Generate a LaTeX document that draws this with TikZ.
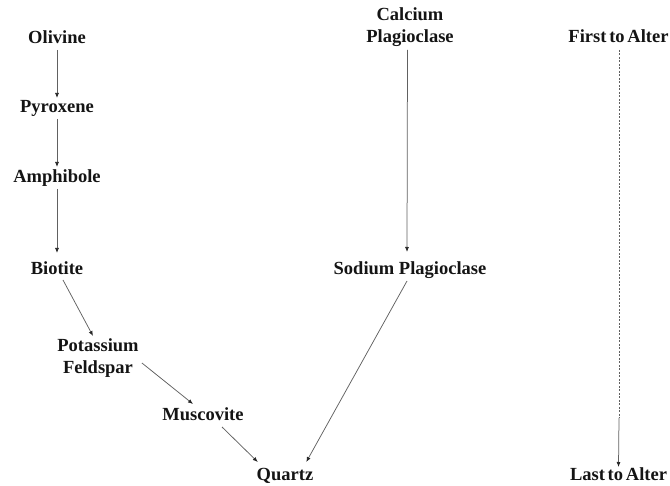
\documentclass[tikz,border=0pt]{standalone}
\usepackage{fontspec}
\setmainfont{Liberation Serif}
\usetikzlibrary{calc,arrows.meta}
\begin{document}
\begin{tikzpicture}[x=1pt,y=-1pt,
  lbl/.style={anchor=base,inner sep=0pt,outer sep=0pt,text height=13pt,text depth=4pt,
    font=\bfseries\fontsize{18.5}{22}\selectfont,text=black!92},
  arr/.style={draw=black!62,line width=0.75pt,-{Latex[length=5pt,width=4pt,color=black!85]}},
  dline/.style={draw=black!62,line width=0.9pt,dash pattern=on 2pt off 1.5pt}]
\useasboundingbox (0,0) rectangle (670,486);
% left series
\node[lbl] (oliv) at (57,44) {Olivine};
\node[lbl] (pyro) at (57,113) {Pyroxene};
\node[lbl] (amph) at (57,183) {Amphibole};
\node[lbl] (bio) at (57,275) {Biotite};
\node[lbl] (pot) at (98,352) {Potassium};
\node[lbl] (feld) at (98,374) {Feldspar};
\node[lbl] (mus) at (203,421) {Muscovite};
\node[lbl] (qtz) at (285,480) {Quartz};
% plagioclase series
\node[lbl] (cal) at (410,21) {Calcium};
\node[lbl] (plag) at (410,43) {Plagioclase};
\node[lbl] (sod) at (410,275) {Sodium Plagioclase};
% alteration scale
\node[lbl] (first) at (618.5,43) {First\hspace{0.15em}to\hspace{0.15em}Alter};
\node[lbl] (last) at (618.5,480) {Last\hspace{0.15em}to\hspace{0.15em}Alter};
\coordinate (mid) at (619,418);
% arrows
\draw[arr] ($(oliv.south)+(0,2)$) -- ($(pyro.north)+(0,-2)$);
\draw[arr] ($(pyro.south)+(0,2)$) -- ($(amph.north)+(0,-3)$);
\draw[arr] ($(amph.south)+(0,2)$) -- ($(bio.north)+(0,-9)$);
\draw[arr] ($(bio.south)+(6,1)$) -- ($(pot.north)+(-5,-3)$);
\draw[arr] ($(feld.north east)+(9,2)$) -- ($(mus.north)+(-10,-4)$);
\draw[arr] ($(mus.south)+(19,2)$) -- ($(qtz.north west)+(1,-5)$);
\draw[arr] ($(sod.south)+(-3,2)$) -- ($(qtz.north east)+(-7,-5)$);
\draw[arr] ($(plag.south)+(-2.5,3)$) -- ($(sod.north)+(-3,-10)$);
\draw[dline] ($(first.south)+(0.5,3)$) -- (mid);
\draw[arr] (mid) -- (last.north);
\end{tikzpicture}
\end{document}
